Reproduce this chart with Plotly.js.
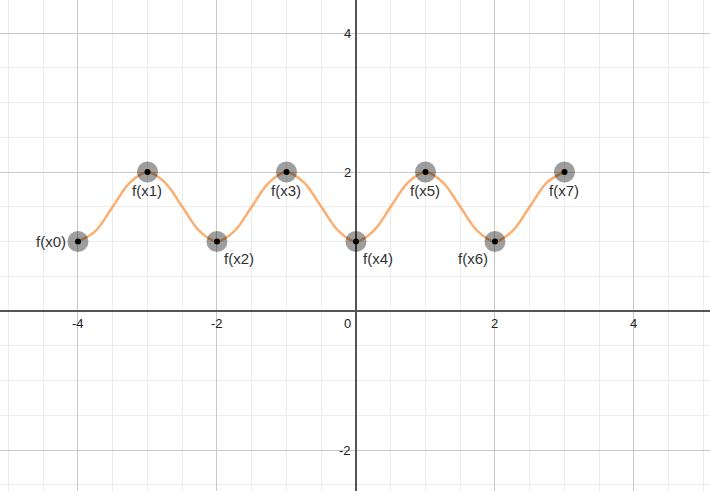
<!DOCTYPE html>
<html>
<head>
<meta charset="utf-8">
<script src="https://cdn.plot.ly/plotly-3.0.1.min.js"></script>
<style>html,body{margin:0;padding:0;background:#fff;}#chart{width:710px;height:491px;}</style>
</head>
<body>
<div id="chart"></div>
<script>
// Data
const pointX = [-4, -3, -2, -1, 0, 1, 2, 3];
const pointY = [1, 2, 1, 2, 1, 2, 1, 2];
const pointLabels = ["f(x0)", "f(x1)", "f(x2)", "f(x3)", "f(x4)", "f(x5)", "f(x6)", "f(x7)"];
// curve samples (quarter-unit steps)
const curveX = [-4, -3.75, -3.5, -3.25, -3, -2.75, -2.5, -2.25, -2, -1.75, -1.5, -1.25, -1,
  -0.75, -0.5, -0.25, 0, 0.25, 0.5, 0.75, 1, 1.25, 1.5, 1.75, 2, 2.25, 2.5, 2.75, 3];
const curveY = [1, 1.15, 1.5, 1.85, 2, 1.85, 1.5, 1.15, 1, 1.15, 1.5, 1.85, 2,
  1.85, 1.5, 1.15, 1, 1.15, 1.5, 1.85, 2, 1.85, 1.5, 1.15, 1, 1.15, 1.5, 1.85, 2];
const xTickVals = [-4, -2, 0, 2, 4];
const xTickText = ["-4", "-2", "0", "2", "4"];
const yTickVals = [4, 2, -2];
const yTickText = ["4", "2", "-2"];

// label placement (style): where each label sits relative to its point
const labelPlace = ["left", "below", "belowright", "below", "belowright", "below", "belowleft", "below"];

const curve = {
  x: curveX, y: curveY, mode: 'lines', type: 'scatter',
  line: {shape: 'spline', smoothing: 1, color: 'rgba(250,140,50,0.7)', width: 2.5},
  hoverinfo: 'skip'
};
const halos = {
  x: pointX, y: pointY, mode: 'markers', type: 'scatter',
  marker: {size: 21, color: 'rgba(0,0,0,0.38)'}, hoverinfo: 'skip'
};
const dots = {
  x: pointX, y: pointY, mode: 'markers', type: 'scatter',
  marker: {size: 6, color: '#000'}, hoverinfo: 'skip'
};

const annotations = [];
pointLabels.forEach((t, i) => {
  const p = labelPlace[i];
  const a = {x: pointX[i], y: pointY[i], xref: 'x', yref: 'y', text: t, showarrow: false,
    font: {family: 'Liberation Sans, Arial, sans-serif', size: 15, color: '#333'}};
  if (p === 'left') { a.xanchor = 'right'; a.yanchor = 'middle'; a.xshift = -10; a.yshift = 0; }
  else if (p === 'below') { a.xanchor = 'center'; a.yanchor = 'top'; a.yshift = -8; }
  else if (p === 'belowright') { a.xanchor = 'left'; a.yanchor = 'top'; a.xshift = 5; a.yshift = -6; }
  else if (p === 'belowleft') { a.xanchor = 'right'; a.yanchor = 'top'; a.xshift = -5; a.yshift = -6; }
  annotations.push(a);
});
const tickFont = {family: 'Liberation Sans, Arial, sans-serif', size: 13, color: '#222'};
xTickVals.forEach((v, i) => {
  annotations.push({x: v, y: 0, xref: 'x', yref: 'y', text: xTickText[i], showarrow: false,
    xanchor: v === 0 ? 'right' : 'center', yanchor: 'top', yshift: -3, xshift: v === 0 ? -3 : 0,
    font: tickFont});
});
yTickVals.forEach((v, i) => {
  annotations.push({x: 0, y: v, xref: 'x', yref: 'y', text: yTickText[i], showarrow: false,
    xanchor: 'right', yanchor: 'middle', xshift: -3, font: tickFont});
});

const layout = {
  width: 710, height: 491,
  margin: {l: 0, r: 0, t: 0, b: 0},
  paper_bgcolor: '#fff', plot_bgcolor: '#fff',
  showlegend: false,
  xaxis: {
    range: [-5.122, 5.094], dtick: 2, tick0: 0, showticklabels: false, ticks: '',
    showgrid: true, gridcolor: '#c8c8c8', gridwidth: 1,
    minor: {dtick: 0.5, tick0: 0, showgrid: true, gridcolor: '#ececec', gridwidth: 1},
    zeroline: true, zerolinecolor: '#555', zerolinewidth: 2, showline: false, fixedrange: true
  },
  yaxis: {
    range: [-2.59, 4.475], dtick: 2, tick0: 0, showticklabels: false, ticks: '',
    showgrid: true, gridcolor: '#c8c8c8', gridwidth: 1,
    minor: {dtick: 0.5, tick0: 0, showgrid: true, gridcolor: '#ececec', gridwidth: 1},
    zeroline: true, zerolinecolor: '#555', zerolinewidth: 2, showline: false, fixedrange: true
  },
  annotations: annotations
};

Plotly.newPlot('chart', [curve, halos, dots], layout, {displayModeBar: false, staticPlot: true});
</script>
</body>
</html>
